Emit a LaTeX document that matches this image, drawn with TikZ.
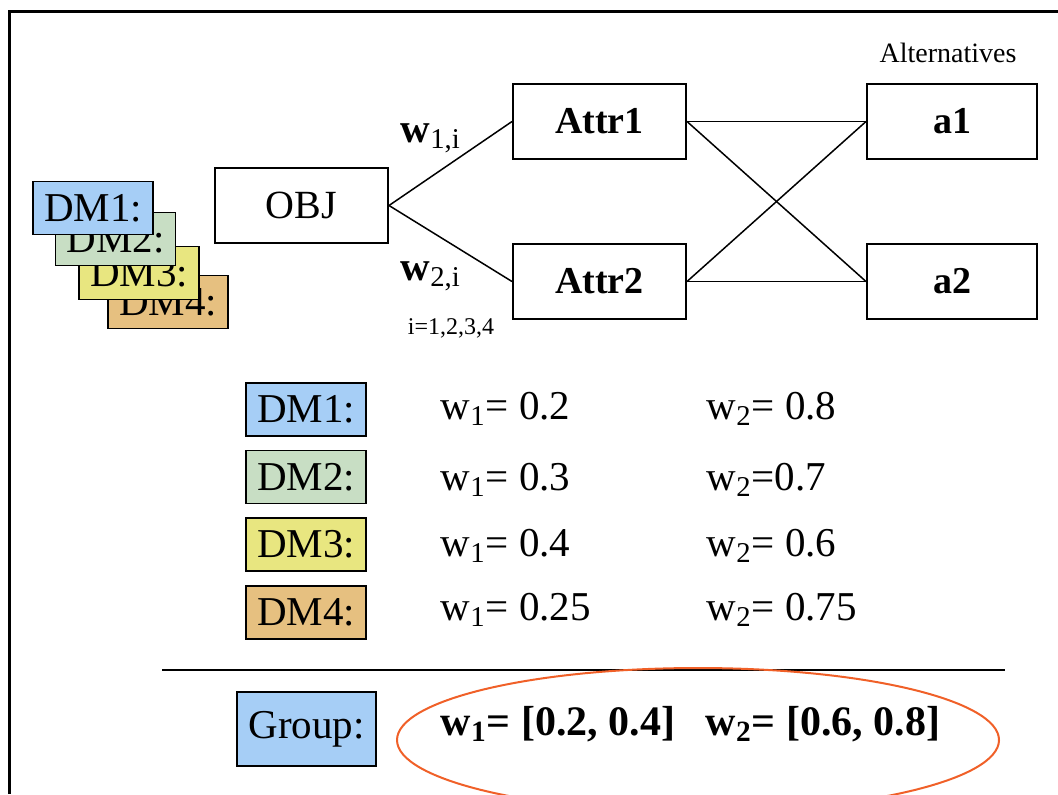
\documentclass[tikz,border=0pt]{standalone}
\usepackage{fontspec}
\setmainfont{Liberation Serif}
\usepackage{xcolor}
\usetikzlibrary{positioning}

\definecolor{dmblue}{RGB}{166,206,246}
\definecolor{dmgreen}{RGB}{200,222,196}
\definecolor{dmyellow}{RGB}{232,230,128}
\definecolor{dmorange}{RGB}{230,192,128}
\definecolor{ringred}{RGB}{240,96,40}

\tikzset{
    box/.style={draw, line width=1pt, minimum width=86.5pt, minimum height=37.5pt,
        inner sep=0pt, font=\fontsize{19}{21}\selectfont\bfseries},
    dmbox/.style={draw, line width=0.9pt, minimum width=60pt, minimum height=26.5pt,
        inner sep=0pt, font=\fontsize{20.5}{22}\selectfont},
    weight/.style={anchor=base west, inner sep=0pt, font=\fontsize{20.5}{22}\selectfont},
}

\begin{document}
\begin{tikzpicture}[x=0.5pt, y=-0.5pt, line width=0.75pt]
    \useasboundingbox (0,0) rectangle (1058,794);
    \clip (0,0) rectangle (1058,794);

    % frame
    \draw[line width=1.5pt] (9,794) -- (9,11) -- (1058,11);

    % stacked decision makers
    \node[dmbox, fill=dmorange] (s4) at (168, 302) {DM4:};
    \node[dmbox, fill=dmyellow] (s3) at (139, 273) {DM3:};
    \node[dmbox, fill=dmgreen] (s2) at (115.5, 239) {DM2:};
    \node[dmbox, fill=dmblue] (s1) at (93, 208) {DM1:};

    % hierarchy
    \node[box, font=\fontsize{20}{22}\selectfont] (obj) at (301.5, 205.5) {OBJ};
    \node[box] (attr1) at (599.5, 121.5) {Attr1};
    \node[box] (attr2) at (599.5, 281.5) {Attr2};
    \node[box, minimum width=85pt] (a1) at (952, 121.5) {a1};
    \node[box, minimum width=85pt] (a2) at (952, 281.5) {a2};
    \node[font=\fontsize{14}{16}\selectfont] (alt) at (948, 53) {Alternatives};

    \path
        (obj.east) edge (attr1.west)
        (obj.east) edge (attr2.west)

        (attr1.east) edge (a1.west)
        (attr1.east) edge (a2.west)

        (attr2.east) edge (a1.west)
        (attr2.east) edge (a2.west);

    \node[weight] (w1i) at (400, 142) {\textbf{w}\textsubscript{1,i}};
    \node[weight] (w2i) at (400, 280) {\textbf{w}\textsubscript{2,i}};
    \node[font=\fontsize{12}{14}\selectfont] (idx) at (451, 328) {i=1,2,3,4};

    % individual weights
    \node[dmbox, fill=dmblue] (d1) at (306, 409.5) {DM1:};
    \node[dmbox, fill=dmgreen] (d2) at (306, 477) {DM2:};
    \node[dmbox, fill=dmyellow] (d3) at (306, 544.5) {DM3:};
    \node[dmbox, fill=dmorange] (d4) at (306, 612.5) {DM4:};

    \node[weight] (d1w1) at (440, 419) {w\textsubscript{1}= 0.2};
    \node[weight] (d1w2) at (706, 419) {w\textsubscript{2}= 0.8};
    \node[weight] (d2w1) at (440, 490) {w\textsubscript{1}= 0.3};
    \node[weight] (d2w2) at (706, 490) {w\textsubscript{2}=0.7};
    \node[weight] (d3w1) at (440, 556) {w\textsubscript{1}= 0.4};
    \node[weight] (d3w2) at (706, 556) {w\textsubscript{2}= 0.6};
    \node[weight] (d4w1) at (440, 620) {w\textsubscript{1}= 0.25};
    \node[weight] (d4w2) at (706, 620) {w\textsubscript{2}= 0.75};

    % group result
    \draw[line width=1pt] (162, 670) -- (1005, 670);
    \node[dmbox, fill=dmblue, minimum width=69.5pt, minimum height=37pt] (grp) at (306.5, 729) {Group:};
    \draw[ringred, line width=1pt] (698, 740) ellipse [x radius=150.5pt, y radius=36pt];
    \node[weight, font=\fontsize{21}{23}\selectfont\bfseries] (gw1) at (440, 735) {w\textsubscript{1}= [0.2, 0.4]};
    \node[weight, font=\fontsize{21}{23}\selectfont\bfseries] (gw2) at (705, 735) {w\textsubscript{2}= [0.6, 0.8]};
\end{tikzpicture}
\end{document}
